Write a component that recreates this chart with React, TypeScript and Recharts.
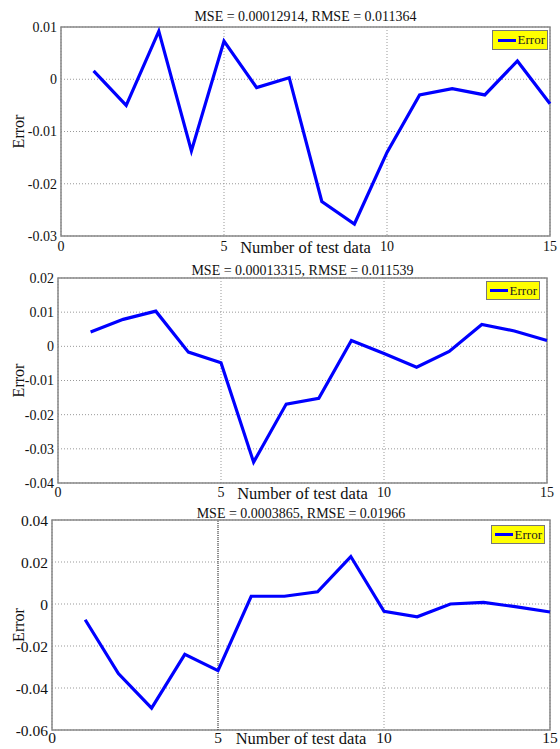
import React from 'react';
import {
  LineChart,
  Line,
  XAxis,
  YAxis,
  CartesianGrid,
  Legend,
  ReferenceArea,
  ReferenceLine,
} from 'recharts';

// values (test sample index 1..15)
const testIndex = [1, 2, 3, 4, 5, 6, 7, 8, 9, 10, 11, 12, 13, 14, 15];
const errorTop = [
  0.0016, -0.005, 0.0092, -0.0137, 0.0073, -0.0016, 0.0003, -0.0234,
  -0.0277, -0.014, -0.003, -0.0018, -0.003, 0.0035, -0.0047,
];
const errorMiddle = [
  0.0042, 0.0079, 0.0103, -0.0017, -0.0048, -0.0339, -0.0169, -0.0152,
  0.0017, -0.0021, -0.0061, -0.0015, 0.0064, 0.0045, 0.0017,
];
const errorBottom = [
  -0.0075, -0.0331, -0.0496, -0.024, -0.0317, 0.0037, 0.0037, 0.0058,
  0.0226, -0.0035, -0.0061, 0.0, 0.0008, -0.0014, -0.0038,
];
const xTicks = [0, 5, 10, 15];
const yTicksTop = [-0.03, -0.02, -0.01, 0, 0.01];
const yTicksMiddle = [-0.04, -0.03, -0.02, -0.01, 0, 0.01, 0.02];
const yTicksBottom = [-0.06, -0.04, -0.02, 0, 0.02, 0.04];
const titles = [
  'MSE = 0.00012914, RMSE = 0.011364',
  'MSE = 0.00013315, RMSE = 0.011539',
  'MSE = 0.0003865, RMSE = 0.01966',
];
const seriesName = 'Error';
const xLabel = 'Number of test data';

const serif = "'Liberation Serif', 'Times New Roman', serif";

interface PanelProps {
  top: number;
  height: number;
  values: number[];
  yTicks: number[];
  title: string;
  titleY: number;
  tickSize: number;
  xTickGap: number;
  margin: { top: number; right: number; bottom: number; left: number };
  legendPos: { top: number; left: number; width: number; height: number };
  darkFive?: boolean;
}

const LegendBox = ({ width, height }: { width: number; height: number }) => (
  <div
    style={{
      width,
      height,
      boxSizing: 'border-box',
      background: '#ffff00',
      border: '1px solid #777',
      display: 'flex',
      alignItems: 'center',
      justifyContent: 'flex-end',
      paddingRight: 2,
      fontFamily: serif,
      fontSize: 13,
      color: '#222',
    }}
  >
    <span style={{ display: 'inline-block', width: 18, height: 3, background: '#0000ff', marginRight: 2 }} />
    {seriesName}
  </div>
);

const Panel: React.FC<PanelProps> = (p) => {
  const rows = testIndex.map((n, i) => ({ n, err: p.values[i] }));
  const yMin = p.yTicks[0];
  const yMax = p.yTicks[p.yTicks.length - 1];
  const plotLeft = p.margin.left + 50;
  const plotRight = 560 - p.margin.right;

  const errorLabel = (props: any) => {
    const vb = props.viewBox;
    const cx = 18;
    const cy = vb.y + vb.height / 2;
    return (
      <text
        x={cx}
        y={cy}
        transform={`rotate(-90 ${cx} ${cy})`}
        textAnchor="middle"
        dominantBaseline="central"
        fontFamily={serif}
        fontSize={16}
        fill="#111"
      >
        {seriesName}
      </text>
    );
  };

  return (
    <div style={{ position: 'absolute', top: p.top, left: 0, width: 560, height: p.height }}>
      <div
        style={{
          position: 'absolute',
          top: p.titleY - p.top - 7,
          left: plotLeft,
          width: plotRight - plotLeft,
          textAlign: 'center',
          fontFamily: serif,
          fontSize: 14,
          lineHeight: '14px',
          color: '#111',
        }}
      >
        {p.title}
      </div>
      <LineChart width={560} height={p.height} data={rows} margin={p.margin}>
        <CartesianGrid stroke="#999" strokeDasharray="1 2" />
        <XAxis
          dataKey="n"
          type="number"
          domain={[0, 15]}
          ticks={xTicks}
          height={20}
          tickLine={false}
          axisLine={false}
          tickSize={0}
          tickMargin={p.xTickGap}
          tick={{ fontFamily: serif, fontSize: p.tickSize, fill: '#111' }}
          label={{
            value: xLabel,
            position: 'insideTop',
            offset: p.xTickGap,
            style: { fontFamily: serif, fontSize: 16.5, fill: '#111' },
          }}
        />
        <YAxis
          type="number"
          domain={[yMin, yMax]}
          ticks={p.yTicks}
          width={50}
          tickLine={false}
          axisLine={false}
          tickSize={0}
          tickMargin={4}
          interval={0}
          tick={{ fontFamily: serif, fontSize: p.tickSize, fill: '#111' }}
          label={errorLabel}
        />
        {p.darkFive && <ReferenceLine x={5} stroke="#333" strokeDasharray="1 1" />}
        <ReferenceArea x1={0} x2={15} y1={yMin} y2={yMax} fill="none" stroke="#888" strokeWidth={1.5} />
        <Legend
          verticalAlign="middle"
          layout="horizontal"
          wrapperStyle={{
            top: p.legendPos.top,
            left: p.legendPos.left,
            width: p.legendPos.width,
            height: p.legendPos.height,
          }}
          content={() => <LegendBox width={p.legendPos.width} height={p.legendPos.height} />}
        />
        <Line
          type="linear"
          dataKey="err"
          name={seriesName}
          stroke="#0000ff"
          strokeWidth={3.2}
          dot={false}
          isAnimationActive={false}
        />
      </LineChart>
    </div>
  );
};

export default function App() {
  return (
    <div style={{ position: 'absolute', top: 0, left: 0, width: 560, height: 749, background: '#fff' }}>
      <Panel
        top={0}
        height={260}
        values={errorTop}
        yTicks={yTicksTop}
        title={titles[0]}
        titleY={17}
        tickSize={14}
        xTickGap={5}
        margin={{ top: 27, right: 10, bottom: 4, left: 11 }}
        legendPos={{ top: 30, left: 492, width: 56, height: 20 }}
      />
      <Panel
        top={255}
        height={250}
        values={errorMiddle}
        yTicks={yTicksMiddle}
        title={titles[1]}
        titleY={271}
        tickSize={14}
        xTickGap={4}
        margin={{ top: 23, right: 13, bottom: 2, left: 8 }}
        legendPos={{ top: 26, left: 486, width: 54, height: 19 }}
      />
      <Panel
        top={500}
        height={249}
        values={errorBottom}
        yTicks={yTicksBottom}
        title={titles[2]}
        titleY={514}
        tickSize={15.5}
        xTickGap={2}
        margin={{ top: 20, right: 10, bottom: -1, left: 2 }}
        legendPos={{ top: 25, left: 491, width: 54, height: 19 }}
        darkFive
      />
    </div>
  );
}
